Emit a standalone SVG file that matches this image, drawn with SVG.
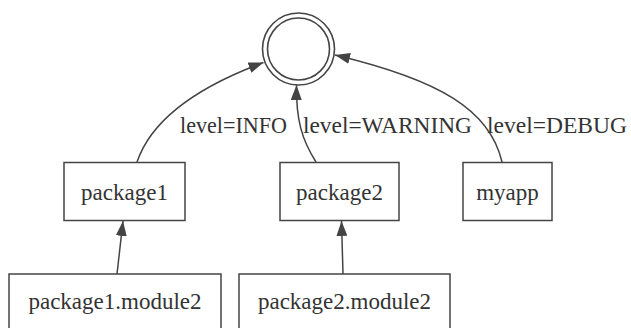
<svg xmlns="http://www.w3.org/2000/svg" width="631" height="328" viewBox="0 0 631 328">
<style>
.box{fill:#fff;stroke:#444;stroke-width:1.5}
.ring{fill:none;stroke:#444;stroke-width:1.6}
.edge{fill:none;stroke:#444;stroke-width:1.5}
text{font-family:"Liberation Serif","Times New Roman",serif;font-size:23px;fill:#333}
.c{text-anchor:middle}
</style>
<defs>
<marker id="arr" viewBox="0 0 15 11" refX="15" refY="5.5" markerWidth="15" markerHeight="11" markerUnits="userSpaceOnUse" orient="auto">
<path d="M0,0 L15,5.5 L0,11 Z" fill="#444"/>
</marker>
</defs>
<rect width="631" height="328" fill="#fff"/>
<g id="root">
<circle class="ring" cx="298.5" cy="49" r="36"/>
<circle class="ring" cx="298.5" cy="49" r="31"/>
</g>
<g id="package1">
<rect class="box" x="64" y="162.5" width="121" height="58"/>
<text class="c" x="124.5" y="200">package1</text>
</g>
<g id="package2">
<rect class="box" x="280" y="162.5" width="119" height="58"/>
<text class="c" x="339.5" y="200">package2</text>
</g>
<g id="myapp">
<rect class="box" x="463" y="162.5" width="89" height="58"/>
<text class="c" x="507.5" y="200">myapp</text>
</g>
<g id="package1.module2">
<rect class="box" x="9" y="274" width="212" height="70"/>
<text class="c" x="115" y="309">package1.module2</text>
</g>
<g id="package2.module2">
<rect class="box" x="239" y="274" width="211" height="70"/>
<text class="c" x="344.5" y="309">package2.module2</text>
</g>
<g id="connectors">
<path class="edge" marker-end="url(#arr)" d="M137,162 C152,118 200,86 263.5,62.5"/>
<path class="edge" marker-end="url(#arr)" d="M316,162 C302,140 296,120 296.5,85"/>
<path class="edge" marker-end="url(#arr)" d="M502,162 C490,110 440,80 335,55"/>
<path class="edge" marker-end="url(#arr)" d="M117,274 L123,221"/>
<path class="edge" marker-end="url(#arr)" d="M343,274 L341.5,221"/>
</g>
<g id="labels">
<text x="180" y="133" textLength="107" lengthAdjust="spacingAndGlyphs">level=INFO</text>
<text x="303" y="133" textLength="169" lengthAdjust="spacingAndGlyphs">level=WARNING</text>
<text x="487" y="133" textLength="140" lengthAdjust="spacingAndGlyphs">level=DEBUG</text>
</g>
</svg>
